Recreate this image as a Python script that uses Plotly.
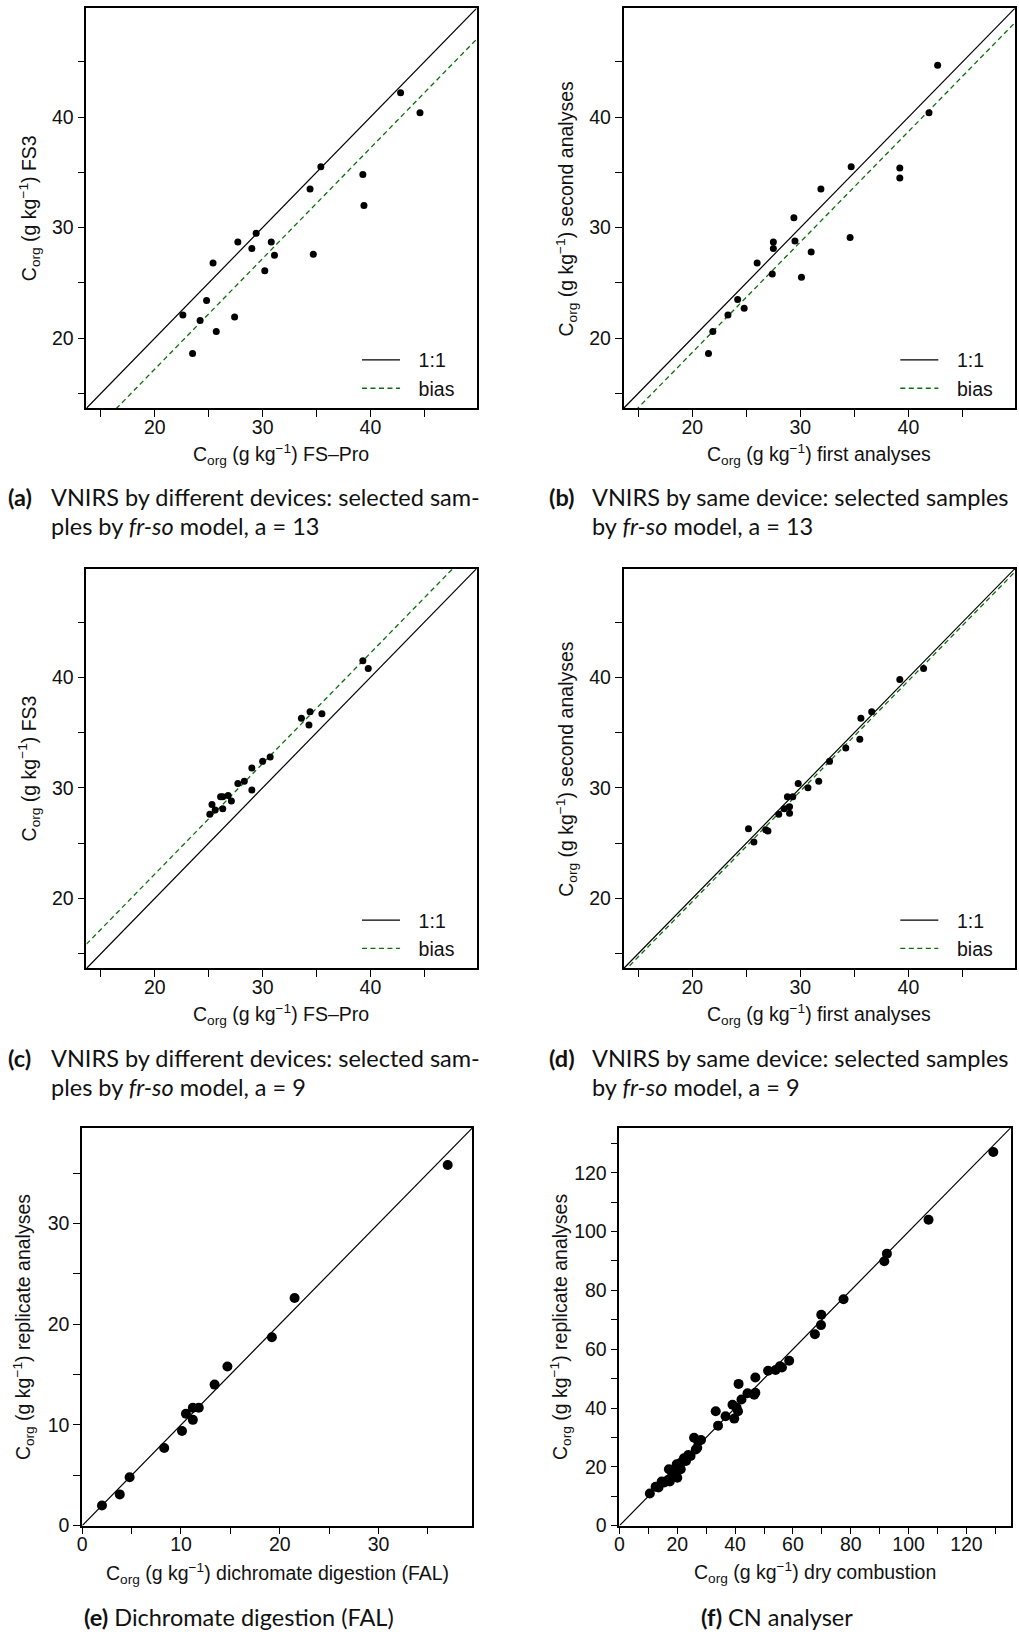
import plotly.graph_objects as go

W, H = 1019, 1644

# ---------------- data ----------------
a_x = [22.6, 23.5, 24.2, 24.8, 25.4, 25.7, 27.4, 27.7, 29.0, 29.4, 30.2, 30.8, 31.1, 34.4, 34.7, 35.4, 39.3, 39.4, 42.8, 44.6]
a_y = [22.1, 18.6, 21.6, 23.4, 26.8, 20.6, 21.9, 28.7, 28.1, 29.5, 26.1, 28.7, 27.5, 33.5, 27.6, 35.5, 34.8, 32.0, 42.2, 40.4]
a_bias = -2.8

b_x = [21.5, 21.9, 23.3, 24.2, 24.8, 26.0, 27.5, 27.5, 27.4, 29.4, 29.5, 30.1, 31.0, 31.9, 34.7, 34.6, 39.2, 39.2, 41.9, 42.7]
b_y = [18.6, 20.6, 22.1, 23.5, 22.7, 26.8, 28.7, 28.1, 25.8, 30.9, 28.8, 25.5, 27.8, 33.5, 35.5, 29.1, 35.4, 34.5, 40.4, 44.7]
b_bias = -1.3

c_x = [25.1, 25.3, 25.6, 26.1, 26.3, 26.3, 26.8, 27.1, 27.7, 28.3, 29.0, 29.0, 30.0, 30.7, 33.6, 34.4, 34.3, 35.5, 39.3, 39.8]
c_y = [27.6, 28.5, 28.0, 29.2, 29.2, 28.1, 29.3, 28.8, 30.4, 30.6, 31.8, 29.8, 32.4, 32.8, 36.3, 36.9, 35.7, 36.7, 41.5, 40.8]
c_bias = 2.2

d_x = [25.2, 25.7, 26.8, 27.0, 28.0, 28.5, 28.8, 29.0, 29.0, 29.3, 29.8, 30.7, 31.7, 32.7, 34.2, 35.5, 35.6, 36.6, 39.2, 41.4]
d_y = [26.3, 25.1, 26.2, 26.1, 27.6, 28.1, 29.2, 28.3, 27.7, 29.2, 30.4, 30.0, 30.6, 32.4, 33.6, 34.4, 36.3, 36.9, 39.8, 40.8]
d_bias = -0.3

e_x = [2.0, 3.8, 4.8, 8.3, 10.1, 10.5, 11.2, 11.2, 11.8, 13.4, 14.7, 19.2, 21.5, 37.0]
e_y = [2.0, 3.1, 4.8, 7.7, 9.4, 11.1, 11.7, 10.5, 11.7, 14.0, 15.8, 18.7, 22.6, 35.8]

f_x = [10.5, 12.5, 13.5, 14.6, 15.5, 16.9, 17.1, 17.4, 18.3, 19.0, 19.8, 20.0, 21.2, 21.2, 22.3, 23.0, 23.8, 24.6,
       25.8, 26.4, 26.9, 27.2, 28.2, 33.3, 34.1, 36.7, 39.1, 39.7, 40.5, 41.0, 41.2, 42.2, 44.3, 46.6, 47.0, 47.0,
       51.4, 54.0, 55.5, 56.2, 58.7, 67.6, 69.7, 69.8, 77.5, 91.6, 92.5, 106.9, 129.3]
f_y = [10.9, 13.2, 13.0, 15.0, 14.7, 15.6, 19.2, 15.0, 17.5, 18.0, 20.9, 16.3, 19.2, 21.4, 22.9, 22.0, 24.0, 23.7,
       29.9, 25.9, 26.5, 28.7, 29.1, 38.9, 34.0, 37.2, 41.1, 36.4, 40.2, 38.9, 48.2, 42.9, 45.0, 44.5, 45.2, 50.4,
       52.7, 52.9, 54.2, 53.8, 56.1, 65.1, 68.2, 71.7, 77.0, 89.9, 92.5, 104.0, 127.1]

vn_ticks = [15, 20, 25, 30, 35, 40, 45]
vn_labels = ["", "20", "", "30", "", "40", ""]
e_ticks = [0, 5, 10, 15, 20, 25, 30, 35]
e_labels = ["0", "", "10", "", "20", "", "30", ""]
f_ticks = [0, 10, 20, 30, 40, 50, 60, 70, 80, 90, 100, 110, 120, 130]
f_labels = ["0", "", "20", "", "40", "", "60", "", "80", "", "100", "", "120", ""]

unit = "C<sub>org</sub> (g kg<sup>−1</sup>)"
titles = {
    "a": (unit + " FS–Pro", unit + " FS3"),
    "b": (unit + " first analyses", unit + " second analyses"),
    "c": (unit + " FS–Pro", unit + " FS3"),
    "d": (unit + " first analyses", unit + " second analyses"),
    "e": (unit + " dichromate digestion (FAL)", unit + " replicate analyses"),
    "f": (unit + " dry combustion", unit + " replicate analyses"),
}
leg_names = ["\u2002\u20091:1", "\u2002\u2009bias"]

# ---------------- layout geometry (pixels) ----------------
FONT = "Liberation Sans, Arial, sans-serif"
CAP_FONT = "Lato, Open Sans, sans-serif"
GREEN = "#0b6f0b"
TICK_SIZE = 19.5
TITLE_SIZE = 19.5
LEG_SIZE = 19.5
CAP_SIZE = 23.5

VN_RANGE = [13.65, 49.85]
panels = [
    # key, x-px, y-px, range, ticks, labels, x, y, bias, x-title y, y-title x
    ("a", (81.8, 473.9), (8.4, 411.0), VN_RANGE, vn_ticks, vn_labels, a_x, a_y, a_bias, 458.0, 24.0),
    ("b", (621.7, 1014.9), (8.4, 411.0), VN_RANGE, vn_ticks, vn_labels, b_x, b_y, b_bias, 458.0, 564.0),
    ("c", (81.8, 473.9), (572.4, 975.0), VN_RANGE, vn_ticks, vn_labels, c_x, c_y, c_bias, 1021.5, 24.0),
    ("d", (621.7, 1014.9), (572.4, 975.0), VN_RANGE, vn_ticks, vn_labels, d_x, d_y, d_bias, 1021.5, 564.0),
    ("e", (77.6, 469.7), (1135.4, 1535.9), [0, 39.5], e_ticks, e_labels, e_x, e_y, None, 1584.5, 18.5),
    ("f", (617.5, 1010.6), (1135.4, 1535.9), [0, 135.3], f_ticks, f_labels, f_x, f_y, None, 1583.5, 558.0),
]

fig = go.Figure()
layout = dict(
    width=W, height=H, margin=dict(l=0, r=0, t=0, b=0),
    paper_bgcolor="white", plot_bgcolor="white",
    font=dict(family=FONT, size=TICK_SIZE, color="#111"),
    showlegend=True,
)

annotations = []

for i, (key, xp, yp, rng, tv, tt, xs, ys, bias, xt_y, yt_x) in enumerate(panels):
    n = "" if i == 0 else str(i + 1)
    xref, yref = "x" + n, "y" + n
    big = bias is None
    legend_name = "legend" + n
    fig.add_trace(go.Scatter(
        x=rng, y=rng, mode="lines", name=leg_names[0],
        line=dict(color="black", width=1.2),
        xaxis=xref, yaxis=yref, showlegend=not big, legend=legend_name,
        hoverinfo="skip"))
    if not big:
        fig.add_trace(go.Scatter(
            x=rng, y=[rng[0] + bias, rng[1] + bias], mode="lines", name=leg_names[1],
            line=dict(color=GREEN, width=1.3, dash="5px,3.5px"),
            xaxis=xref, yaxis=yref, showlegend=True, legend=legend_name,
            hoverinfo="skip"))
    fig.add_trace(go.Scatter(
        x=xs, y=ys, mode="markers", name="samples",
        marker=dict(color="black", size=10 if big else 7, line=dict(width=0)),
        xaxis=xref, yaxis=yref, showlegend=False))

    common = dict(
        range=rng, showline=True, mirror=True, linecolor="black", linewidth=1.7,
        ticks="outside", ticklen=7, tickwidth=1.3, tickcolor="black",
        tickmode="array", tickvals=tv, ticktext=tt,
        showgrid=False, zeroline=False,
        tickfont=dict(family=FONT, size=TICK_SIZE, color="#111"),
    )
    layout["xaxis" + n] = dict(common, domain=[xp[0] / W, xp[1] / W], anchor=yref, ticklabelstandoff=-7)
    layout["yaxis" + n] = dict(common, domain=[1 - yp[1] / H, 1 - yp[0] / H], anchor=xref)

    # axis titles
    annotations.append(dict(text=titles[key][0], x=(xp[0] + xp[1]) / 2 / W, y=1 - xt_y / H,
                            xref="paper", yref="paper", xanchor="center", yanchor="middle", showarrow=False,
                            font=dict(family=FONT, size=TITLE_SIZE, color="#111")))
    annotations.append(dict(text=titles[key][1], x=yt_x / W, y=1 - (yp[0] + yp[1]) / 2 / H,
                            xref="paper", yref="paper", xanchor="center", yanchor="middle", showarrow=False,
                            textangle=-90, font=dict(family=FONT, size=TITLE_SIZE, color="#111")))
    if not big:
        layout[legend_name] = dict(
            x=(xp[1] - 120.2) / W, y=1 - (yp[1] - 68) / H, xanchor="left", yanchor="top",
            bgcolor="rgba(0,0,0,0)", borderwidth=0,
            font=dict(family=FONT, size=LEG_SIZE, color="#111"),
            itemwidth=38, tracegroupgap=0,
        )

# ---------------- sub-figure captions ----------------
caps = [
    ("(a)", "VNIRS by different devices: selected sam-", "ples by <i>fr-so</i> model, a = 13", 1.5, 44.0, 500.0),
    ("(b)", "VNIRS by same device: selected samples", "by <i>fr-so</i> model, a = 13", 545.0, 588.0, 500.0),
    ("(c)", "VNIRS by different devices: selected sam-", "ples by <i>fr-so</i> model, a = 9", 1.5, 44.0, 1065.2),
    ("(d)", "VNIRS by same device: selected samples", "by <i>fr-so</i> model, a = 9", 545.0, 588.0, 1065.2),
]
for lab, l1, l2, xl, xt, yl in caps:
    for txt, xx, yy in [("<b>" + lab + "</b>", xl, yl), (l1, xt, yl), (l2, xt, yl + 29.5)]:
        annotations.append(dict(text=txt, x=xx / W, y=1 - yy / H, xref="paper", yref="paper",
                                xanchor="left", yanchor="middle", showarrow=False,
                                font=dict(family=CAP_FONT, size=CAP_SIZE, color="#111")))

for lab, txt, xc in [("(e)", "Dichromate digestion (FAL)", 235.0), ("(f)", "CN analyser", 776.0)]:
    annotations.append(dict(text="<b>" + lab + "</b> " + txt, x=xc / W, y=1 - 1628.0 / H,
                            xref="paper", yref="paper", xanchor="center", yanchor="middle",
                            showarrow=False, font=dict(family=CAP_FONT, size=CAP_SIZE, color="#111")))

layout["annotations"] = annotations
fig.update_layout(**layout)
fig.write_html("out.html")
